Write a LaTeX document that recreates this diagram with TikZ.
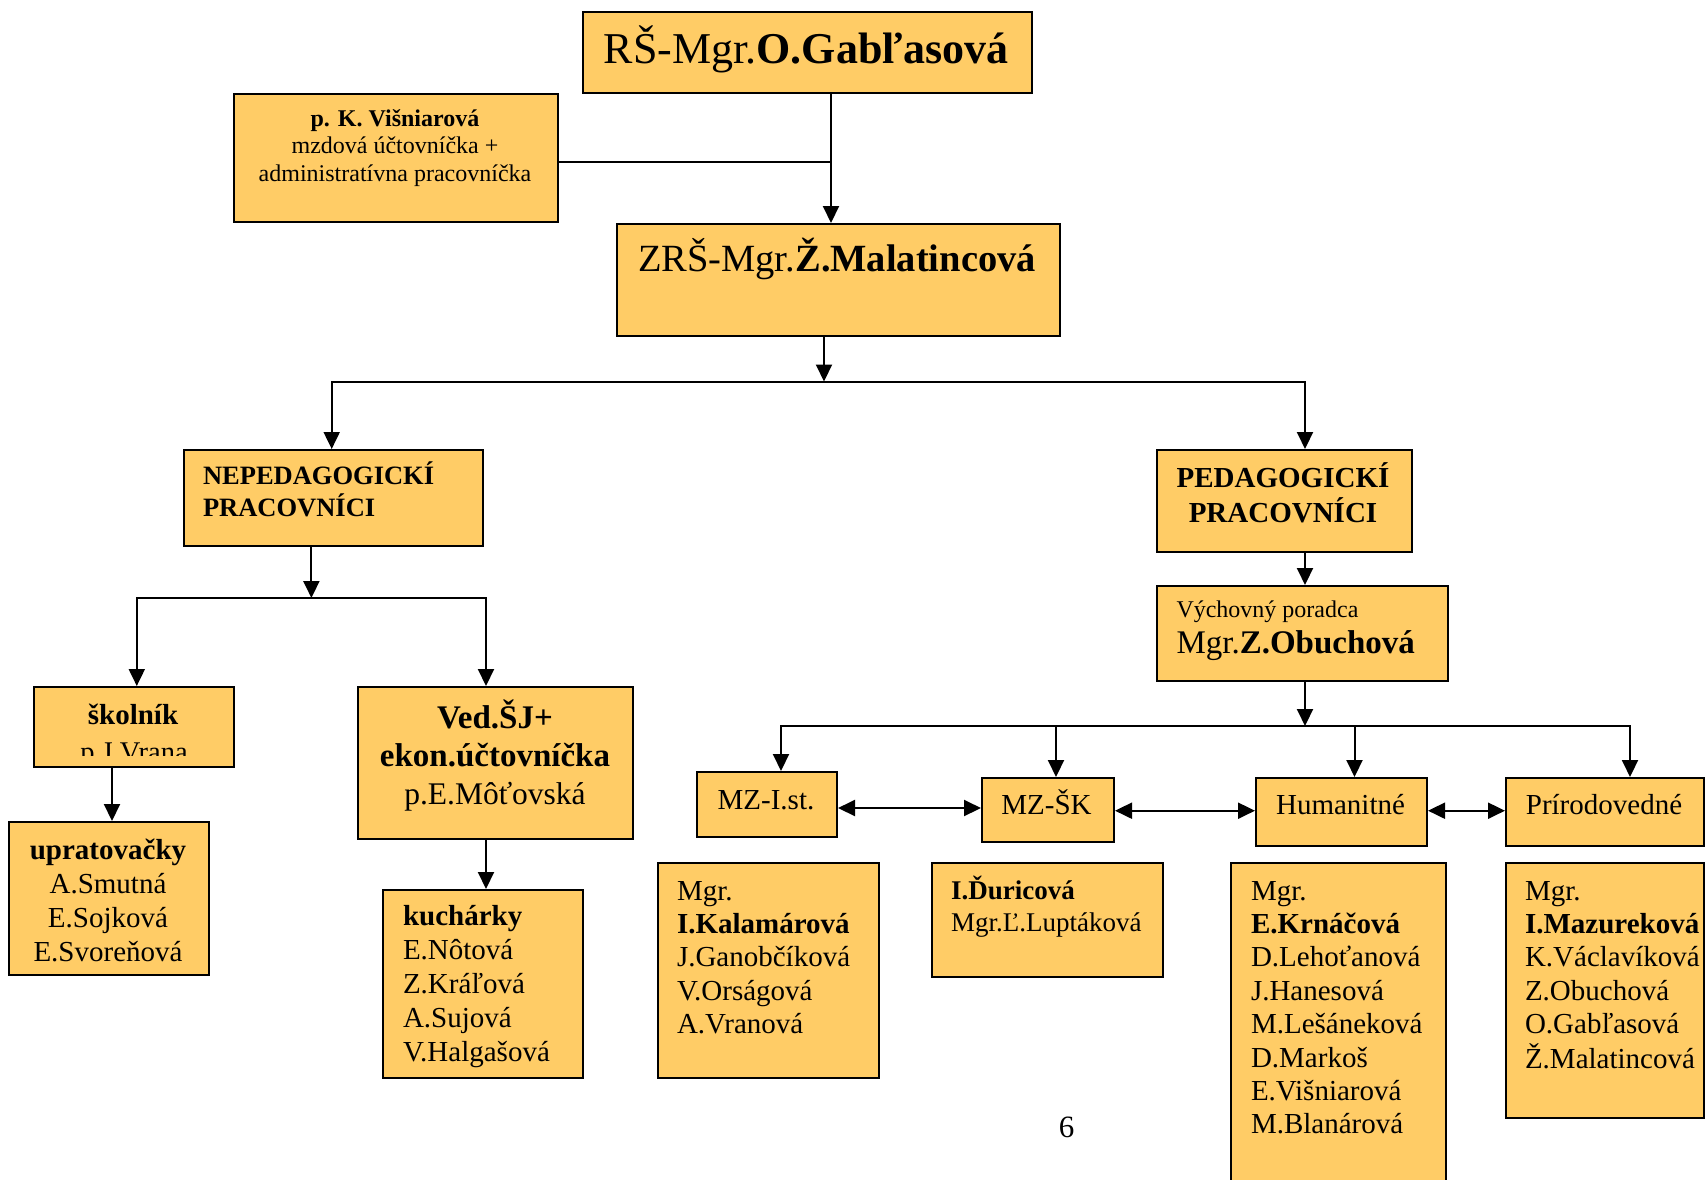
\documentclass[tikz,border=0pt]{standalone}
\usepackage{fontspec}
\setmainfont{Liberation Serif}
\usetikzlibrary{arrows.meta}
\definecolor{boxfill}{HTML}{FFCC66}
\newcommand\fs[2]{\fontsize{#1pt}{#2pt}\selectfont}
\newcommand\mylines[2]{\begin{tabular}[t]{@{}#1@{}}#2\end{tabular}}
\tikzset{
  box/.style={draw=black, fill=boxfill, line width=2pt, inner sep=0pt, anchor=north west},
  conn/.style={line width=2pt},
  arr/.style={conn, -{Triangle[length=17pt,width=16pt]}},
  dd/.style={conn, {Triangle[length=17pt,width=16pt]}-{Triangle[length=17pt,width=16pt]}},
  txt/.style={inner sep=0pt, outer sep=0pt},
}
\begin{document}
\begin{tikzpicture}[x=1pt,y=-1pt]
\useasboundingbox (0,0) rectangle (1705,1179);
\clip (0,0) rectangle (1705,1179);
\fill[white] (0,0) rectangle (1705,1179);

% boxes
\node[box, minimum width=449pt, minimum height=81pt] (rs) at (582,11) {};
\node[box, minimum width=324pt, minimum height=128pt] (vis) at (233,93) {};
\node[box, minimum width=443pt, minimum height=112pt] (zrs) at (616,223) {};
\node[box, minimum width=299pt, minimum height=96pt] (nep) at (183,449) {};
\node[box, minimum width=255pt, minimum height=102pt] (ped) at (1156,449) {};
\node[box, minimum width=200pt, minimum height=80pt] (skol) at (33,686) {};
\node[box, minimum width=275pt, minimum height=152pt] (ved) at (357,686) {};
\node[box, minimum width=200pt, minimum height=153pt] (uprat) at (8,821) {};
\node[box, minimum width=200pt, minimum height=188pt] (kuch) at (382,889) {};
\node[box, minimum width=291pt, minimum height=95pt] (vp) at (1156,585) {};
\node[box, minimum width=140pt, minimum height=65pt] (mz1) at (696,771) {};
\node[box, minimum width=132pt, minimum height=64pt] (mzsk) at (981,777) {};
\node[box, minimum width=171pt, minimum height=68pt] (hum) at (1255,777) {};
\node[box, minimum width=198pt, minimum height=68pt] (prir) at (1505,777) {};
\node[box, minimum width=221pt, minimum height=215pt] (kal) at (657,862) {};
\node[box, minimum width=231pt, minimum height=114pt] (dur) at (931,862) {};
\node[box, minimum width=215pt, minimum height=340pt] (krn) at (1230,862) {};
\node[box, minimum width=198pt, minimum height=255pt] (maz) at (1505,862) {};

% texts
\node[txt, anchor=base] (rsT) at (806,63) {\fs{44}{50}RŠ-Mgr.\textbf{O.Gabľasová}};
\node[txt, anchor=base] (visT) at (395,126) {\fs{24}{27.5}\mylines{c}{\textbf{p. K. Višniarová}\\ mzdová účtovníčka +\\ administratívna pracovníčka}};
\node[txt, anchor=base] (zrsT) at (837,271) {\fs{38.5}{44}ZRŠ-Mgr.\textbf{Ž.Malatincová}};
\node[txt, anchor=base west] (nepT) at (203,484) {\fs{26.5}{32}\bfseries\mylines{l}{NEPEDAGOGICKÍ\\PRACOVNÍCI}};
\node[txt, anchor=base] (pedT) at (1283,487) {\fs{29}{34}\bfseries\mylines{c}{PEDAGOGICKÍ\\PRACOVNÍCI}};
\node[txt, anchor=base] (skolT) at (133,724) {\fs{29}{34}\textbf{školník}};
\begin{scope}
  \clip (34,687) rectangle (232,755);
  \node[txt, anchor=base] (skolT2) at (134,761) {\fs{28.5}{34}p.J.Vrana};
\end{scope}
\node[txt, anchor=base] (vedT) at (495,728) {\fs{33}{38}\mylines{c}{\textbf{Ved.ŠJ+}\\\textbf{ekon.účtovníčka}\\{\fs{31.5}{38}p.E.Môťovská}}};
\node[txt, anchor=base] (upratT) at (108,859) {\fs{29}{34}\mylines{c}{\textbf{upratovačky}\\A.Smutná\\E.Sojková\\E.Svoreňová}};
\node[txt, anchor=base west] (kuchT) at (403,925.5) {\fs{29}{34}\mylines{l}{\textbf{kuchárky}\\E.Nôtová\\Z.Kráľová\\A.Sujová\\V.Halgašová}};
\node[txt, anchor=base west] (vpT1) at (1176.5,617) {\fs{24}{28}Výchovný poradca};
\node[txt, anchor=base west] (vpT2) at (1176.5,653) {\fs{33}{38}Mgr.\textbf{Z.Obuchová}};
\node[txt, anchor=base] (mz1T) at (766,809.5) {\fs{29}{34}MZ-I.st.};
\node[txt, anchor=base] (mzskT) at (1046.5,814.6) {\fs{29}{34}MZ-ŠK};
\node[txt, anchor=base] (humT) at (1340.5,814.6) {\fs{29}{34}Humanitné};
\node[txt, anchor=base] (prirT) at (1604,814.6) {\fs{29}{34}Prírodovedné};
\node[txt, anchor=base west] (kalT) at (677,900) {\fs{29}{33.4}\mylines{l}{Mgr.\\\textbf{I.Kalamárová}\\J.Ganobčíková\\V.Orságová\\A.Vranová}};
\node[txt, anchor=base west] (durT) at (951,899.5) {\fs{27}{31.5}\mylines{l}{\textbf{I.Ďuricová}\\Mgr.Ľ.Luptáková}};
\node[txt, anchor=base west] (krnT) at (1251,900) {\fs{29}{33.4}\mylines{l}{Mgr.\\\textbf{E.Krnáčová}\\D.Lehoťanová\\J.Hanesová\\M.Lešáneková\\D.Markoš\\E.Višniarová\\M.Blanárová}};
\node[txt, anchor=base west] (mazT) at (1525,900) {\fs{29}{33.4}\mylines{l}{Mgr.\\\textbf{I.Mazureková}\\K.Václavíková\\Z.Obuchová\\O.Gabľasová\\Ž.Malatincová}};
\node[txt, anchor=base] (pageno) at (1066.5,1137) {\fs{31}{34}6};

% junction coordinates
\coordinate (j0) at (831,162);
\coordinate (j1) at (824,381.5);
\coordinate (j1l) at (331.7,381.5);
\coordinate (j1r) at (1305,381.5);
\coordinate (j2) at (311.4,598);
\coordinate (j2l) at (136.8,598);
\coordinate (j2r) at (486,598);
\coordinate (j3) at (112,766);
\coordinate (j4) at (1305,726);
\coordinate (j4a) at (781,726);
\coordinate (j4b) at (1056,726);
\coordinate (j4c) at (1354.5,726);
\coordinate (j4d) at (1630,726);
\coordinate (h1) at (0,808);
\coordinate (h2) at (0,810.7);

% connectors
\draw[arr] (rs.south -| j0) -- (zrs.north -| j0);
\draw[conn] (vis.east |- j0) -- (j0);
\draw[arr] (zrs.south -| j1) -- (j1);
\draw[dd] (nep.north -| j1l) |- (j1r) -- (ped.north -| j1r);
\draw[arr] (nep.south -| j2) -- (j2);
\draw[dd] (skol.north -| j2l) |- (j2r) -- (ved.north -| j2r);
\draw[arr] (skol.south -| j3) -- (uprat.north -| j3);
\draw[arr] (ved.south -| j2r) -- (kuch.north -| j2r);
\draw[arr] (ped.south -| j1r) -- (vp.north -| j1r);
\draw[arr] (vp.south -| j4) -- (j4);
\draw[dd] (mz1.north -| j4a) |- (j4d) -- (prir.north -| j4d);
\draw[arr] (j4b) -- (mzsk.north -| j4b);
\draw[arr] (j4c) -- (hum.north -| j4c);
\draw[dd] (mz1.east |- h1) -- (mzsk.west |- h1);
\draw[dd] (mzsk.east |- h2) -- (hum.west |- h2);
\draw[dd] (hum.east |- h2) -- (prir.west |- h2);
\end{tikzpicture}
\end{document}
